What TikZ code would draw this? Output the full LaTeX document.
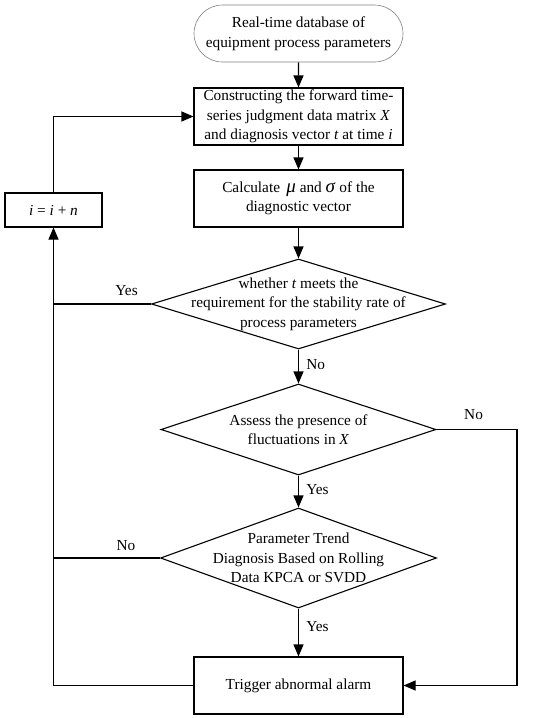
\documentclass[tikz,border=0pt]{standalone}
\usepackage{fontspec}
\setmainfont{Liberation Serif}
\usetikzlibrary{arrows.meta,shapes.geometric,shapes.misc}
\newcommand{\bigsym}[1]{{\fontsize{19pt}{19.5pt}\selectfont\textit{#1}}}
\begin{document}
\begin{tikzpicture}[x=1pt, y=-1pt, line width=1.1pt,
		font=\fontsize{15.3pt}{19.5pt}\selectfont,
		proc/.style={draw, rectangle, minimum width=209pt, minimum height=57pt, inner sep=0pt, align=center},
		term/.style={draw=gray, line width=0.6pt, rounded rectangle, minimum width=209pt, minimum height=57pt, inner sep=0pt, align=center},
		cond/.style={draw, diamond, inner sep=0pt},
		arr/.style={-{Triangle[length=12pt,width=10pt]}}]
			\useasboundingbox (0,0) rectangle (550,718);
			
			%main column
			\node[term] (db) at (298.5,33.5) {Real-time database of\\equipment process parameters};
			\node[proc] (build) at (298.5,116.5) {Constructing the forward time-\\series judgment data matrix \textit{X}\\and diagnosis vector \textit{t} at time \textit{i}};
			\node[proc] (calc) at (298.5,198.5) {Calculate \,\bigsym{μ} and \bigsym{σ} of the\\diagnostic vector};
			
			\node[cond, minimum width=294pt, minimum height=90pt] (stab) at (298.5,304) {};
			\node[align=center] (stabtxt) at (stab) {whether \textit{t} meets the\\requirement for the stability rate of\\process parameters};
			
			\node[cond, minimum width=275pt, minimum height=91pt] (fluct) at (298.5,429.5) {};
			\node[align=center] (flucttxt) at (fluct) {Assess the presence of\\fluctuations in \textit{X}};
			
			\node[cond, minimum width=276pt, minimum height=100pt] (trend) at (298.5,558) {};
			\node[align=center] (trendtxt) at (trend) {Parameter Trend\\Diagnosis Based on Rolling\\Data KPCA or SVDD};
			
			\node[proc] (alarm) at (298.5,685.5) {Trigger abnormal alarm};
			
			%loop box
			\node[proc, minimum width=97pt, minimum height=34pt] (inc) at (53.5,210) {\textit{i} = \textit{i} + \textit{n}};
			\coordinate (side) at (517,429.5);
			
			%arrows
			\draw[arr] (db) -- (build);
			\draw[arr] (build) -- (calc);
			\draw[arr] (calc) -- (stab);
			\draw[arr] (stab) -- node[right=4pt, pos=0.45] {No} (fluct);
			\draw[arr] (fluct) -- node[right=4pt, pos=0.45] {Yes} (trend);
			\draw[arr] (trend) -- node[right=4pt, pos=0.38] {Yes} (alarm);
			
			\draw (stab.west) -- node[above=4pt, pos=0.25] {Yes} (stab.west -| inc.south);
			\draw (trend.west) -- node[above=3pt, pos=0.32] {No} (trend.west -| inc.south);
			\draw[arr] (alarm.west) -| (inc.south);
			\draw[arr] (inc.north) |- (build.west);
			\draw[arr] (fluct.east) -- node[above=6pt, pos=0.46] {No} (side) |- (alarm.east);
		\end{tikzpicture}
\end{document}
